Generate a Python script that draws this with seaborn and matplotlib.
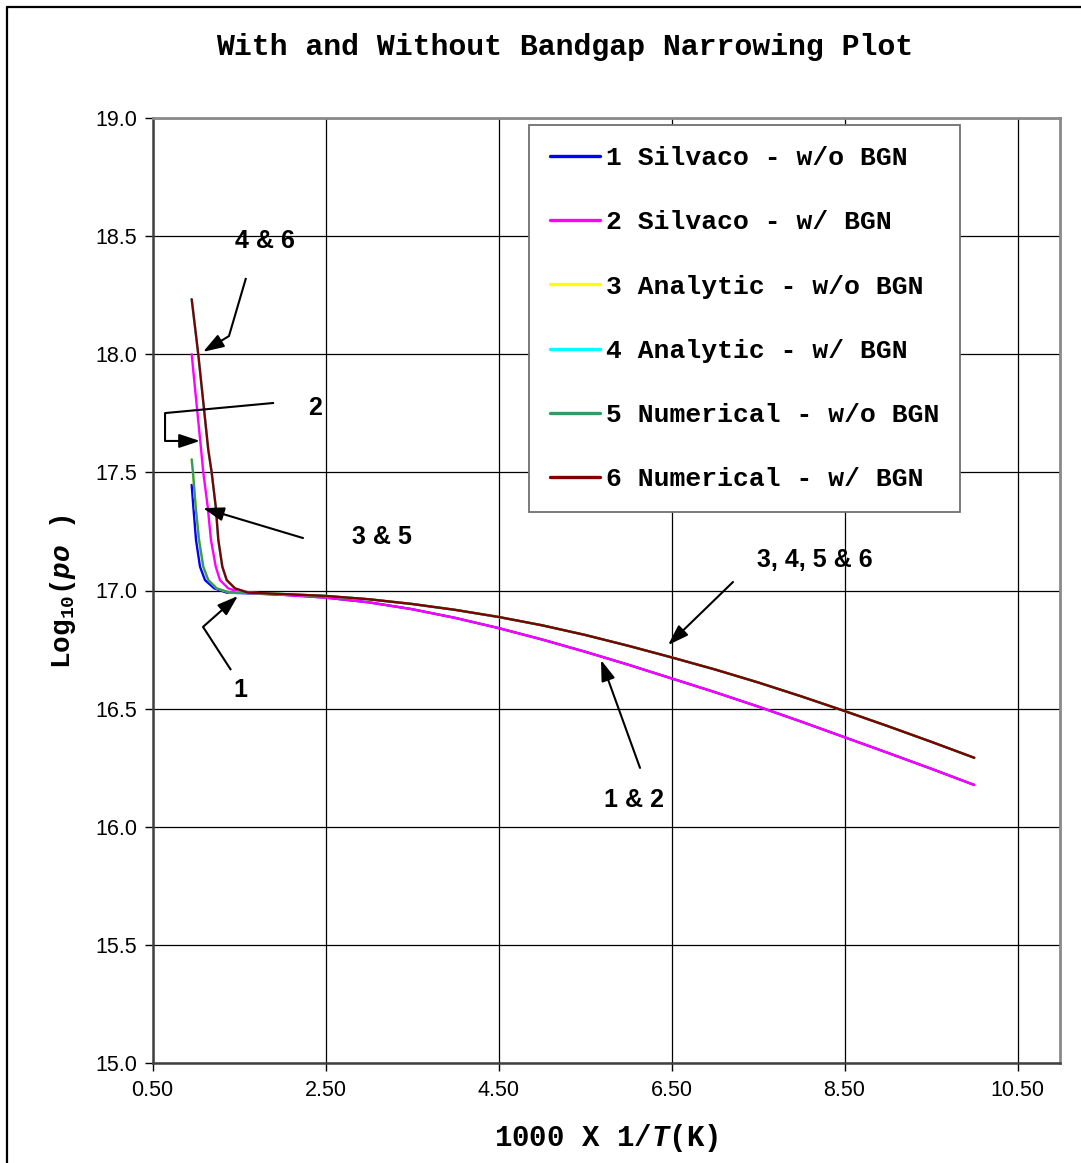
import numpy as np
import pandas as pd
import matplotlib
matplotlib.use("Agg")
import matplotlib.pyplot as plt
from matplotlib.lines import Line2D
import seaborn as sns

# ---------------- data ----------------
series_names = ["1 Silvaco - w/o BGN", "2 Silvaco - w/ BGN", "3 Analytic - w/o BGN",
                "4 Analytic - w/ BGN", "5 Numerical - w/o BGN", "6 Numerical - w/ BGN"]
series_colors = ["#0000FF", "#FF00FF", "#FFFF00", "#00FFFF", "#339966", "#800000"]

# common tail (1000/T)
tail_x = [2.0, 2.5, 3.0, 3.5, 4.0, 4.5, 5.0, 5.5, 6.0, 6.5, 7.0, 7.5, 8.0, 8.5, 9.0, 9.5, 10.0]
tail_upper = [16.985, 16.977, 16.963, 16.943, 16.918, 16.888, 16.853, 16.812, 16.766, 16.717,
              16.666, 16.611, 16.552, 16.490, 16.426, 16.360, 16.292]
tail_lower = [16.982, 16.970, 16.950, 16.921, 16.884, 16.841, 16.793, 16.741, 16.686, 16.628,
              16.570, 16.509, 16.445, 16.379, 16.313, 16.246, 16.177]

s1_x = [0.953, 0.972, 1.003, 1.049, 1.107, 1.214, 1.358, 1.6]
s1_y = [17.447, 17.355, 17.214, 17.101, 17.044, 17.009, 16.991, 16.988]
s2_x = [0.953, 1.0, 1.061, 1.087, 1.138, 1.176, 1.231, 1.280, 1.376, 1.531]
s2_y = [18.0, 17.824, 17.60, 17.50, 17.355, 17.214, 17.101, 17.044, 17.009, 16.991]
s3_x = [0.953, 0.968, 0.999, 1.038, 1.087, 1.145, 1.242, 1.396, 1.6]
s3_y = [17.555, 17.50, 17.355, 17.214, 17.101, 17.044, 17.009, 16.991, 16.99]
s4_x = [0.953, 1.029, 1.145, 1.184, 1.231, 1.261, 1.307, 1.358, 1.454, 1.608]
s4_y = [18.233, 18.0, 17.595, 17.50, 17.355, 17.214, 17.101, 17.044, 17.009, 16.991]
s5_x = [0.953, 0.968, 0.999, 1.038, 1.087, 1.145, 1.242, 1.396, 1.6]
s5_y = [17.555, 17.50, 17.355, 17.214, 17.101, 17.044, 17.009, 16.991, 16.99]
s6_x = [0.953, 1.029, 1.145, 1.184, 1.231, 1.261, 1.307, 1.358, 1.454, 1.608]
s6_y = [18.233, 18.0, 17.595, 17.50, 17.355, 17.214, 17.101, 17.044, 17.009, 16.991]

x_ticks = [0.5, 2.5, 4.5, 6.5, 8.5, 10.5]
y_ticks = [15.0, 15.5, 16.0, 16.5, 17.0, 17.5, 18.0, 18.5, 19.0]

heads = [(s1_x, s1_y, tail_lower), (s2_x, s2_y, tail_lower), (s3_x, s3_y, tail_upper),
         (s4_x, s4_y, tail_upper), (s5_x, s5_y, tail_upper), (s6_x, s6_y, tail_upper)]
rows = []
for name, (hx, hy, ty) in zip(series_names, heads):
    for xv, yv in zip(list(hx) + tail_x, list(hy) + ty):
        rows.append((name, xv, yv))
df = pd.DataFrame(rows, columns=["series", "x", "y"])

# ---------------- style ----------------
sns.set_theme(style="white")
plt.rcParams["font.family"] = ["Liberation Sans", "DejaVu Sans"]
plt.rcParams["text.color"] = "black"
plt.rcParams["axes.labelcolor"] = "black"
plt.rcParams["xtick.color"] = "black"
plt.rcParams["ytick.color"] = "black"
plt.rcParams["mathtext.fontset"] = "custom"
plt.rcParams["mathtext.rm"] = "Liberation Mono:bold"
plt.rcParams["mathtext.it"] = "Liberation Mono:italic:bold"
plt.rcParams["mathtext.bf"] = "Liberation Mono:bold"

W, H = 1081, 1163
fig = plt.figure(figsize=(W / 100, H / 100), dpi=100)
fig.patch.set_facecolor("white")
ax = fig.add_axes([152.5 / W, 1 - 1063 / H, (1060 - 152.5) / W, (1063 - 118) / H])

sns.lineplot(data=df, x="x", y="y", hue="series", hue_order=series_names,
             palette=dict(zip(series_names, series_colors)), sort=False,
             estimator=None, linewidth=1.7, ax=ax, legend=False)

ax.set_xlim(0.5, 0.5 + (1060 - 152.5) / 86.5)
ax.set_ylim(15.0, 19.0)
ax.set_xticks(x_ticks)
ax.set_xticklabels([f"{v:.2f}" for v in x_ticks])
ax.set_yticks(y_ticks)
ax.set_yticklabels([f"{v:.1f}" for v in y_ticks])
ax.grid(True, color="black", linewidth=0.9)
ax.set_axisbelow(True)
ax.tick_params(axis="both", which="major", direction="out", length=5.5, width=1,
               color="black", labelsize=15.5, labelcolor="black",
               bottom=True, left=True)
ax.tick_params(axis="x", pad=7)
ax.tick_params(axis="y", pad=5.5)
ax.set_xlabel("")
ax.set_ylabel("")
for side in ["top", "right"]:
    ax.spines[side].set_color("#8a8a8a")
    ax.spines[side].set_linewidth(2)
for side in ["left", "bottom"]:
    ax.spines[side].set_color("#404040")
    ax.spines[side].set_linewidth(1.8)

# legend
handles = [Line2D([0], [0], color=c, lw=2.4) for c in series_colors]
leg = ax.legend(handles, series_names, loc="upper left",
                bbox_to_anchor=(529 / W, 1 - 125 / H), bbox_transform=fig.transFigure,
                borderaxespad=0, frameon=True, fancybox=False, framealpha=1,
                prop={"family": "Liberation Mono", "weight": "bold", "size": 19},
                handlelength=1.9, handletextpad=0.2, labelspacing=1.525, borderpad=0.8)
leg.get_frame().set_edgecolor("#707070")
leg.get_frame().set_linewidth(1.3)
for t in leg.get_texts():
    t.set_color("black")

# titles / labels
fig.text(565 / W, 1 - 47 / H, "With and Without Bandgap Narrowing Plot",
         ha="center", va="center", family="Liberation Mono", weight="bold", fontsize=21.5)
fig.text(606 / W, 1 - 1138 / H, r"1000 X 1/$\mathit{T}$(K)",
         ha="center", va="center", family="Liberation Mono", weight="bold", fontsize=21)
fig.text(63 / W, 1 - 592 / H, r"Log$_{10}$($\mathit{po}$ )", rotation=90,
         ha="center", va="center", family="Liberation Mono", weight="bold", fontsize=20)

# annotations
ann_font = dict(fontsize=18, weight="bold", family="Liberation Sans", ha="center",
                va="center", color="black")
arrow = dict(arrowstyle="-|>,head_length=0.9,head_width=0.3", color="black", lw=1.5,
             shrinkA=0, shrinkB=0, mutation_scale=14)
line_kw = dict(color="black", lw=1.5, solid_capstyle="butt")

ax.text(1.80, 18.48, "4 & 6", **ann_font)
ax.plot([1.581, 1.384], [18.323, 18.077], **line_kw)
ax.annotate("", xy=(1.084, 18.010), xytext=(1.384, 18.077), arrowprops=arrow)

ax.text(2.38, 17.772, "2", **ann_font)
ax.plot([1.905, 0.645, 0.645], [17.794, 17.751, 17.633], **line_kw)
ax.annotate("", xy=(1.049, 17.633), xytext=(0.645, 17.633), arrowprops=arrow)

ax.text(3.153, 17.226, "3 & 5", **ann_font)
ax.annotate("", xy=(1.084, 17.349), xytext=(2.240, 17.222), arrowprops=arrow)

ax.text(1.512, 16.579, "1", **ann_font)
ax.plot([1.408, 1.084], [16.663, 16.846], **line_kw)
ax.annotate("", xy=(1.488, 16.977), xytext=(1.084, 16.846), arrowprops=arrow)

ax.text(8.159, 17.129, "3, 4, 5 & 6", **ann_font)
ax.annotate("", xy=(6.460, 16.769), xytext=(7.211, 17.036), arrowprops=arrow)

ax.text(6.066, 16.113, "1 & 2", **ann_font)
ax.annotate("", xy=(5.685, 16.706), xytext=(6.136, 16.249), arrowprops=arrow)

# figure border (left & top visible)
fig.add_artist(Line2D([7 / W, 7 / W], [0, 1 - 7 / H], transform=fig.transFigure,
                      color="black", lw=1.6))
fig.add_artist(Line2D([7 / W, 1], [1 - 7 / H, 1 - 7 / H], transform=fig.transFigure,
                      color="black", lw=1.6))

fig.savefig("out.png", dpi=100, facecolor="white")
